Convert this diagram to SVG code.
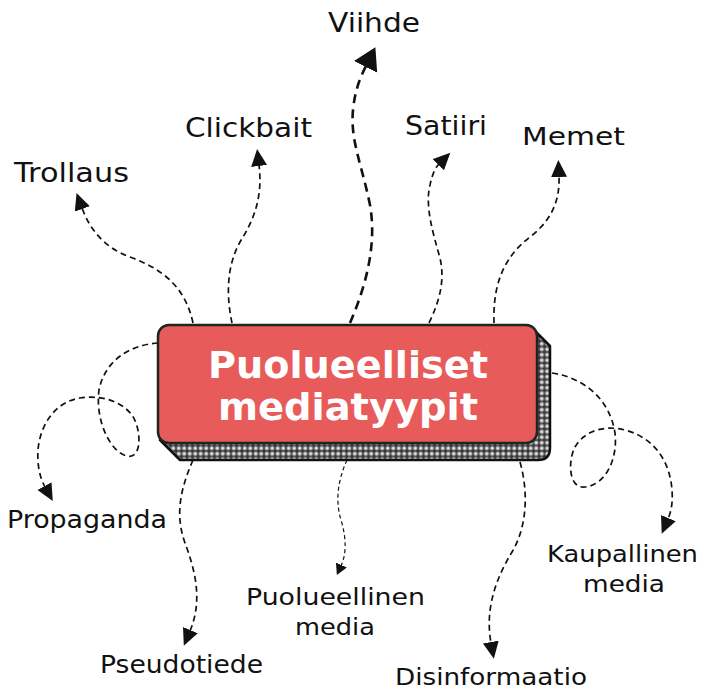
<svg xmlns="http://www.w3.org/2000/svg" width="704" height="689" viewBox="0 0 704 689">
<style>
.lbl{font-family:"DejaVu Sans","Liberation Sans",sans-serif;fill:#111;}
.ttl{font-family:"DejaVu Sans","Liberation Sans",sans-serif;font-weight:bold;fill:#fff;font-size:38px;}
.c{fill:none;stroke:#111;stroke-width:1.7;stroke-dasharray:6 4;}
.thick{stroke-width:2.6;stroke-dasharray:9 6;}
.thin{stroke-width:1.2;stroke-dasharray:4 3;}
</style>
<defs>
<marker id="ah" markerUnits="userSpaceOnUse" markerWidth="20" markerHeight="18" refX="1" refY="8" orient="auto">
<path d="M0,0 L17,8 L0,16 z" fill="#111"/>
</marker>
<marker id="ahb" markerUnits="userSpaceOnUse" markerWidth="26" markerHeight="28" refX="1" refY="13" orient="auto">
<path d="M0,0 L22,13 L0,26 z" fill="#111"/>
</marker>
<marker id="ahs" markerUnits="userSpaceOnUse" markerWidth="14" markerHeight="14" refX="1" refY="6" orient="auto">
<path d="M0,0 L11,6 L0,12 z" fill="#111"/>
</marker>
<pattern id="knit" width="5.5" height="5.5" patternUnits="userSpaceOnUse">
<rect width="5.5" height="5.5" fill="#3a3a3a"/>
<circle cx="2.75" cy="2.75" r="1.9" fill="#e6e6e6" stroke="#9a9a9a" stroke-width="0.9"/>
</pattern>
</defs>
<rect width="704" height="689" fill="#fff"/>
<g id="connectors">
<path class="c" d="M193,323 C185,285 160,268 130,257 C105,248 90,230 82,208" marker-end="url(#ah)"/>
<path class="c" d="M232,323 C225,290 228,260 243,237 C258,212 262,190 259,165" marker-end="url(#ah)"/>
<path class="c thick" d="M350,323 C362,295 378,250 370,205 C362,165 350,140 353,110 C355,90 360,78 366,66" marker-end="url(#ahb)"/>
<path class="c" d="M429,323 C440,300 445,280 440,258 C432,230 425,205 430,185 C432,175 435,168 439,164" marker-end="url(#ah)"/>
<path class="c" d="M494,323 C493,290 500,260 530,237 C552,220 560,200 559,176" marker-end="url(#ah)"/>
<path class="c" d="M158,343 C130,345 105,360 99,390 C95,420 110,452 127,456 C142,460 142,430 132,415 C120,400 100,395 80,398 C55,402 40,425 38,450 C37,465 40,478 45,487" marker-end="url(#ah)"/>
<path class="c" d="M193,460 C180,490 175,515 185,543 C195,570 203,600 190,631" marker-end="url(#ah)"/>
<path class="c thin" d="M347,460 C338,480 335,500 341,520 C347,540 346,555 341,566" marker-end="url(#ahs)"/>
<path class="c" d="M520,462 C528,490 528,525 512,552 C495,580 485,610 491,643" marker-end="url(#ah)"/>
<path class="c" d="M552,373 C585,378 610,400 615,433 C618,460 605,485 585,487 C568,489 568,460 575,447 C585,430 605,425 625,430 C655,438 670,462 672,490 C673,503 671,512 668,519" marker-end="url(#ah)"/>
</g>
<g id="center">
<path d="M530,326 L550,346 L550,448 Q550,460 538,460 L180,460 L160,440 Z" fill="url(#knit)" stroke="#111" stroke-width="2.5" stroke-linejoin="round"/>
<rect x="158" y="325" width="379" height="118" rx="11" fill="#E85B5B" stroke="#1c261c" stroke-width="2.5"/>
<text class="ttl" x="208" y="378" textLength="280" lengthAdjust="spacingAndGlyphs">Puolueelliset</text>
<text class="ttl" x="218" y="420" textLength="260" lengthAdjust="spacingAndGlyphs">mediatyypit</text>
</g>
<g id="viihde"><text class="lbl" x="328" y="32" font-size="26" textLength="92" lengthAdjust="spacingAndGlyphs">Viihde</text></g>
<g id="clickbait"><text class="lbl" x="185" y="137" font-size="26" textLength="127" lengthAdjust="spacingAndGlyphs">Clickbait</text></g>
<g id="satiiri"><text class="lbl" x="405" y="135" font-size="27" textLength="82" lengthAdjust="spacingAndGlyphs">Satiiri</text></g>
<g id="memet"><text class="lbl" x="522" y="145" font-size="25" textLength="103" lengthAdjust="spacingAndGlyphs">Memet</text></g>
<g id="trollaus"><text class="lbl" x="14" y="182" font-size="27" textLength="115" lengthAdjust="spacingAndGlyphs">Trollaus</text></g>
<g id="propaganda"><text class="lbl" x="7" y="528" font-size="24" textLength="160" lengthAdjust="spacingAndGlyphs">Propaganda</text></g>
<g id="pseudotiede"><text class="lbl" x="100" y="673" font-size="24" textLength="163" lengthAdjust="spacingAndGlyphs">Pseudotiede</text></g>
<g id="puolueellinen-media">
<text class="lbl" x="246" y="605" font-size="23" textLength="179" lengthAdjust="spacingAndGlyphs">Puolueellinen</text>
<text class="lbl" x="295" y="635" font-size="23" textLength="80" lengthAdjust="spacingAndGlyphs">media</text>
</g>
<g id="kaupallinen-media">
<text class="lbl" x="547" y="562" font-size="23" textLength="151" lengthAdjust="spacingAndGlyphs">Kaupallinen</text>
<text class="lbl" x="583" y="592" font-size="23" textLength="82" lengthAdjust="spacingAndGlyphs">media</text>
</g>
<g id="disinformaatio"><text class="lbl" x="395" y="685" font-size="23" textLength="192" lengthAdjust="spacingAndGlyphs">Disinformaatio</text></g>
</svg>
